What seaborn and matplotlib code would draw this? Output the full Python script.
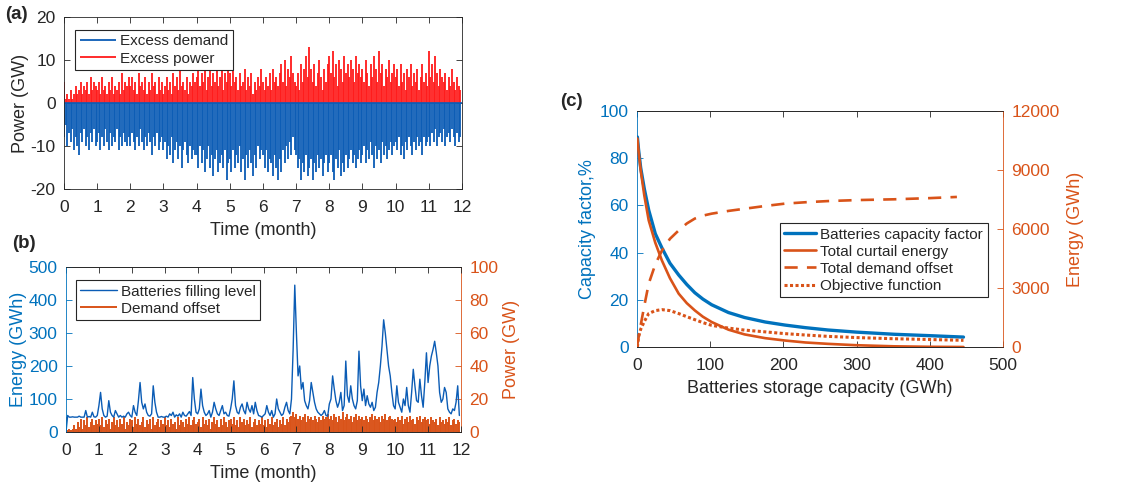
import numpy as np
import matplotlib
matplotlib.use("Agg")
import matplotlib.pyplot as plt
import seaborn as sns

sns.set_style("ticks")
plt.rcParams['font.family'] = ['Liberation Sans', 'DejaVu Sans']
plt.rcParams['axes.unicode_minus'] = False

# (a) hourly balance, read roughly every 0.05 month (20 per month)
excess_power = [
    5,1,2,1,3,1,2,4,2,3,5,2,4,3,5,2,6,3,5,4,
    3,5,2,6,3,4,2,5,3,6,2,4,3,5,2,7,3,5,4,6,
    4,6,3,5,2,7,4,5,3,6,2,5,3,7,4,5,2,6,3,5,
    2,4,6,3,5,2,7,4,6,3,8,4,5,3,6,2,5,4,7,5,
    6,8,4,7,5,9,3,6,8,4,7,5,9,4,6,8,3,7,5,9,
    7,4,8,5,6,3,7,4,5,8,3,6,4,7,2,5,3,6,4,8,
    5,3,6,4,7,3,8,5,6,4,7,9,5,10,4,8,6,11,7,5,
    4,7,3,9,5,8,11,6,13,8,5,9,4,7,10,6,3,8,5,9,
    11,7,12,6,9,4,10,8,5,11,7,9,6,10,8,5,11,7,9,6,
    8,5,10,7,4,9,6,11,8,5,12,7,9,4,8,6,10,5,7,9,
    6,8,4,9,5,7,3,8,6,9,4,7,5,8,3,6,9,5,7,4,
    12,6,9,5,11,7,4,8,6,5,7,3,6,4,8,5,3,6,4,3,
]
excess_demand = [
    -8,-5,-10,-7,-9,-6,-11,-8,-10,-12,-7,-9,-6,-10,-8,-11,-7,-9,-6,-10,
    -9,-7,-11,-8,-10,-6,-9,-11,-7,-10,-8,-9,-6,-11,-8,-10,-7,-9,-10,-8,
    -10,-7,-9,-11,-8,-10,-6,-9,-11,-8,-10,-7,-9,-12,-8,-10,-7,-11,-9,-8,
    -11,-9,-13,-10,-12,-8,-14,-11,-9,-13,-10,-15,-11,-9,-12,-14,-10,-13,-11,-12,
    -12,-15,-10,-14,-11,-16,-13,-10,-15,-12,-17,-13,-11,-16,-14,-12,-15,-11,-18,-14,
    -13,-16,-11,-15,-12,-14,-10,-16,-13,-18,-12,-15,-11,-14,-17,-12,-15,-10,-13,-11,
    -12,-15,-11,-16,-13,-14,-17,-12,-15,-18,-13,-16,-11,-14,-10,-13,-9,-12,-8,-11,
    -12,-15,-13,-18,-14,-16,-12,-17,-15,-13,-18,-14,-16,-12,-15,-13,-17,-14,-12,-16,
    -14,-12,-16,-18,-13,-15,-11,-17,-14,-16,-12,-15,-13,-11,-14,-12,-15,-13,-11,-14,
    -12,-10,-14,-11,-13,-9,-12,-15,-10,-13,-11,-14,-9,-12,-10,-13,-11,-9,-12,-10,
    -9,-11,-8,-12,-10,-13,-9,-11,-8,-10,-12,-9,-11,-8,-10,-9,-12,-8,-10,-9,
    -8,-10,-7,-9,-6,-10,-8,-7,-9,-6,-10,-8,-7,-9,-6,-8,-10,-7,-9,-8,
]

# (b) storage level (GWh) and demand offset (GW)
battery_level = [
    0,50,45,45,46,45,45,45,48,45,45,45,65,45,47,45,60,46,45,50,
    80,120,70,50,45,48,95,60,50,45,65,55,45,50,45,48,45,55,60,50,
    45,80,60,50,95,150,90,70,85,60,50,48,55,140,90,60,45,45,47,45,
    45,48,45,55,50,60,45,52,48,55,45,60,50,48,55,62,50,165,100,60,
    55,70,130,80,60,50,55,65,45,60,90,70,55,50,65,80,55,60,50,48,
    70,100,155,80,60,55,75,85,65,55,90,70,60,80,55,90,65,50,48,45,
    50,55,80,60,50,65,45,55,100,70,60,50,55,75,90,65,55,100,250,445,
    300,170,200,130,150,95,80,70,95,150,120,90,70,60,55,50,55,65,50,48,
    85,100,170,130,95,75,90,120,65,80,215,110,90,140,100,80,70,95,245,140,
    95,130,80,110,85,75,90,65,75,120,150,200,260,340,300,250,200,170,120,80,
    70,140,90,75,60,100,80,135,80,60,120,190,140,95,90,160,110,75,150,240,
    150,200,230,250,275,240,200,120,90,100,135,120,70,60,55,70,65,90,140,50,
]
demand_offset = [
    9,1,2,1,2,4,2,6,3,8,2,7,4,9,3,6,8,4,7,5,
    8,4,9,3,7,5,8,2,6,9,4,7,3,8,5,9,2,6,4,8,
    7,3,9,5,8,4,6,9,3,7,5,8,2,9,4,6,8,3,7,5,
    9,4,7,3,8,5,6,2,9,4,7,6,3,8,5,9,4,7,9,5,
    6,8,3,9,5,7,4,8,2,6,9,5,7,3,8,4,9,6,3,7,
    8,5,9,4,7,3,9,6,8,4,7,5,9,3,6,8,4,7,5,9,
    4,7,3,8,5,9,4,6,8,3,7,5,9,4,8,6,9,10,12,9,
    11,8,10,7,9,11,6,10,8,9,7,10,8,6,9,7,10,8,9,11,
    8,10,7,11,9,6,10,8,12,7,9,11,8,10,6,9,11,7,10,8,
    9,7,10,8,6,9,11,7,10,8,9,6,10,8,11,7,9,10,8,7,
    8,6,9,7,10,5,8,9,6,10,7,8,5,9,7,10,6,8,9,7,
    8,5,9,7,6,8,4,9,6,7,5,8,6,9,4,7,8,5,7,6,
]
months = np.arange(len(excess_power)) / 20.0

# (c) storage sizing sweep
capacity = [0.5, 2, 5, 10, 16, 25, 34, 45, 57, 68, 79, 90, 102, 125, 147, 175, 202, 230, 261, 300, 351, 400, 446]
capacity_factor = [89, 84, 76, 67, 58, 48, 42, 35.5, 30.5, 26.5, 23, 20.3, 17.9, 14.6, 12.5, 10.6, 9.3, 8.2, 7.2, 6.3, 5.4, 4.8, 4.2]
curtail_energy = [10600, 10000, 9000, 7700, 6440, 5300, 4400, 3500, 2710, 2230, 1860, 1540, 1270, 880, 640, 450, 330, 230, 160, 90, 35, 10, 0]
objective = [0, 500, 900, 1300, 1700, 1850, 1900, 1850, 1700, 1540, 1390, 1240, 1100, 960, 860, 770, 680, 610, 540, 480, 420, 380, 340]
offset_capacity = [0, 2, 5, 10, 16, 25, 34, 45, 57, 68, 79, 90, 102, 125, 147, 175, 202, 230, 261, 300, 351, 400, 437]
offset_energy = [0, 450, 1100, 2100, 3220, 4200, 4900, 5500, 5930, 6280, 6530, 6680, 6780, 6920, 7030, 7170, 7290, 7360, 7420, 7470, 7510, 7570, 7630]

blue = "#0b5cb5"
cblue = "#0072BD"
orange = "#D95319"
red = "#ff1a1a"
dark = "#262626"

W, H = 1148, 488
fig = plt.figure(figsize=(W / 100, H / 100), dpi=100)

def px(l, t, r, b):
    return [l / W, 1 - b / H, (r - l) / W, (b - t) / H]

def style(ax, fs=12.5):
    ax.tick_params(direction="in", length=4, width=0.6, labelsize=fs, colors=dark, top=True)
    ax.tick_params(axis="x", pad=8)
    ax.tick_params(axis="y", pad=6)
    for s in ax.spines.values():
        s.set_linewidth(0.6)
        s.set_color(dark)

def boxed_legend(ax, handles, labels, anchor, hl=2.4):
    leg = ax.legend(handles, labels, loc="upper left", bbox_to_anchor=anchor, fontsize=11,
                    frameon=True, fancybox=False, edgecolor=dark, framealpha=1, handlelength=hl,
                    borderpad=0.3, labelspacing=0.2, handletextpad=0.25, borderaxespad=0)
    leg.get_frame().set_linewidth(0.8)
    return leg

# ---- (a)
ax1 = fig.add_axes(px(64, 17, 462, 189))
ax1.vlines(months, 0, excess_demand, colors=blue, linewidth=1.3, label="Excess demand")
ax1.vlines(months, 0, excess_power, colors=red, linewidth=1.3, label="Excess power")
ax1.axhline(0, color=blue, linewidth=1.2)
ax1.set_xlim(0, 12)
ax1.set_ylim(-20, 20)
ax1.set_xticks(range(13))
ax1.set_yticks([-20, -10, 0, 10, 20])
style(ax1)
ax1.tick_params(right=True)
ax1.set_xlabel("Time (month)", fontsize=13, color=dark, labelpad=5)
ax1.set_ylabel("Power (GW)", fontsize=13, color=dark, labelpad=1)
h, l = ax1.get_legend_handles_labels()
boxed_legend(ax1, h, l, (0.028, 0.925))

# ---- (b)
ax2 = fig.add_axes(px(66, 267, 461, 432))
tw2 = ax2.twinx()
tw2.vlines(months, 0, demand_offset, colors=orange, linewidth=1.4, label="Demand offset")
sns.lineplot(x=months, y=battery_level, ax=ax2, color=blue, linewidth=1.0,
             label="Batteries filling level", legend=False)
ax2.set_zorder(tw2.get_zorder() + 1)
ax2.patch.set_visible(False)
ax2.set_xlim(0, 12)
ax2.set_ylim(0, 500)
tw2.set_ylim(0, 100)
ax2.set_xticks(range(13))
ax2.set_yticks([0, 100, 200, 300, 400, 500])
tw2.set_yticks([0, 20, 40, 60, 80, 100])
style(ax2)
style(tw2)
ax2.tick_params(axis="y", colors=cblue)
tw2.tick_params(axis="y", colors=orange)
ax2.spines["left"].set_color(cblue)
ax2.spines["right"].set_visible(False)
tw2.spines["right"].set_color(orange)
tw2.spines["left"].set_visible(False)
ax2.set_xlabel("Time (month)", fontsize=13, color=dark, labelpad=5)
ax2.set_ylabel("Energy (GWh)", fontsize=13, color=cblue, labelpad=1)
tw2.set_ylabel("Power (GW)", fontsize=13, color=orange, labelpad=3)
h1, l1 = ax2.get_legend_handles_labels()
h2, l2 = tw2.get_legend_handles_labels()
boxed_legend(ax2, h1 + h2, l1 + l2, (0.025, 0.92))

# ---- (c)
ax3 = fig.add_axes(px(637, 111, 1003, 347))
tw3 = ax3.twinx()
sns.lineplot(x=capacity, y=capacity_factor, ax=ax3, color=cblue, linewidth=2.4,
             label="Batteries capacity factor", legend=False)
sns.lineplot(x=capacity, y=curtail_energy, ax=tw3, color=orange, linewidth=1.9,
             label="Total curtail energy", legend=False)
sns.lineplot(x=offset_capacity, y=offset_energy, ax=tw3, color=orange, linewidth=1.9,
             label="Total demand offset", legend=False)
tw3.lines[-1].set_linestyle((0, (5, 3.5)))
sns.lineplot(x=capacity, y=objective, ax=tw3, color=orange, linewidth=2.2,
             label="Objective function", legend=False)
tw3.lines[-1].set_linestyle((0, (1, 0.8)))
ax3.set_xlim(0, 500)
ax3.set_ylim(0, 100)
tw3.set_ylim(0, 12000)
ax3.set_xticks([0, 100, 200, 300, 400, 500])
ax3.set_yticks([0, 20, 40, 60, 80, 100])
tw3.set_yticks([0, 3000, 6000, 9000, 12000])
style(ax3)
style(tw3)
ax3.tick_params(axis="y", colors=cblue)
tw3.tick_params(axis="y", colors=orange)
ax3.spines["left"].set_color(cblue)
ax3.spines["right"].set_visible(False)
tw3.spines["right"].set_color(orange)
tw3.spines["left"].set_visible(False)
ax3.set_xlabel("Batteries storage capacity (GWh)", fontsize=13, color=dark, labelpad=5)
ax3.set_ylabel("Capacity factor,%", fontsize=13, color=cblue, labelpad=3)
tw3.set_ylabel("Energy (GWh)", fontsize=13, color=orange, labelpad=5)
h1, l1 = ax3.get_legend_handles_labels()
h2, l2 = tw3.get_legend_handles_labels()
boxed_legend(tw3, h1 + h2, l1 + l2, (0.39, 0.525), hl=2.1)

fig.text(5 / W, 1 - 6 / H, "(a)", fontsize=13.5, fontweight="bold", va="top", ha="left")
fig.text(12 / W, 1 - 235 / H, "(b)", fontsize=13.5, fontweight="bold", va="top", ha="left")
fig.text(560 / W, 1 - 93 / H, "(c)", fontsize=13.5, fontweight="bold", va="top", ha="left")

fig.savefig("out.png", dpi=100, facecolor="white")
